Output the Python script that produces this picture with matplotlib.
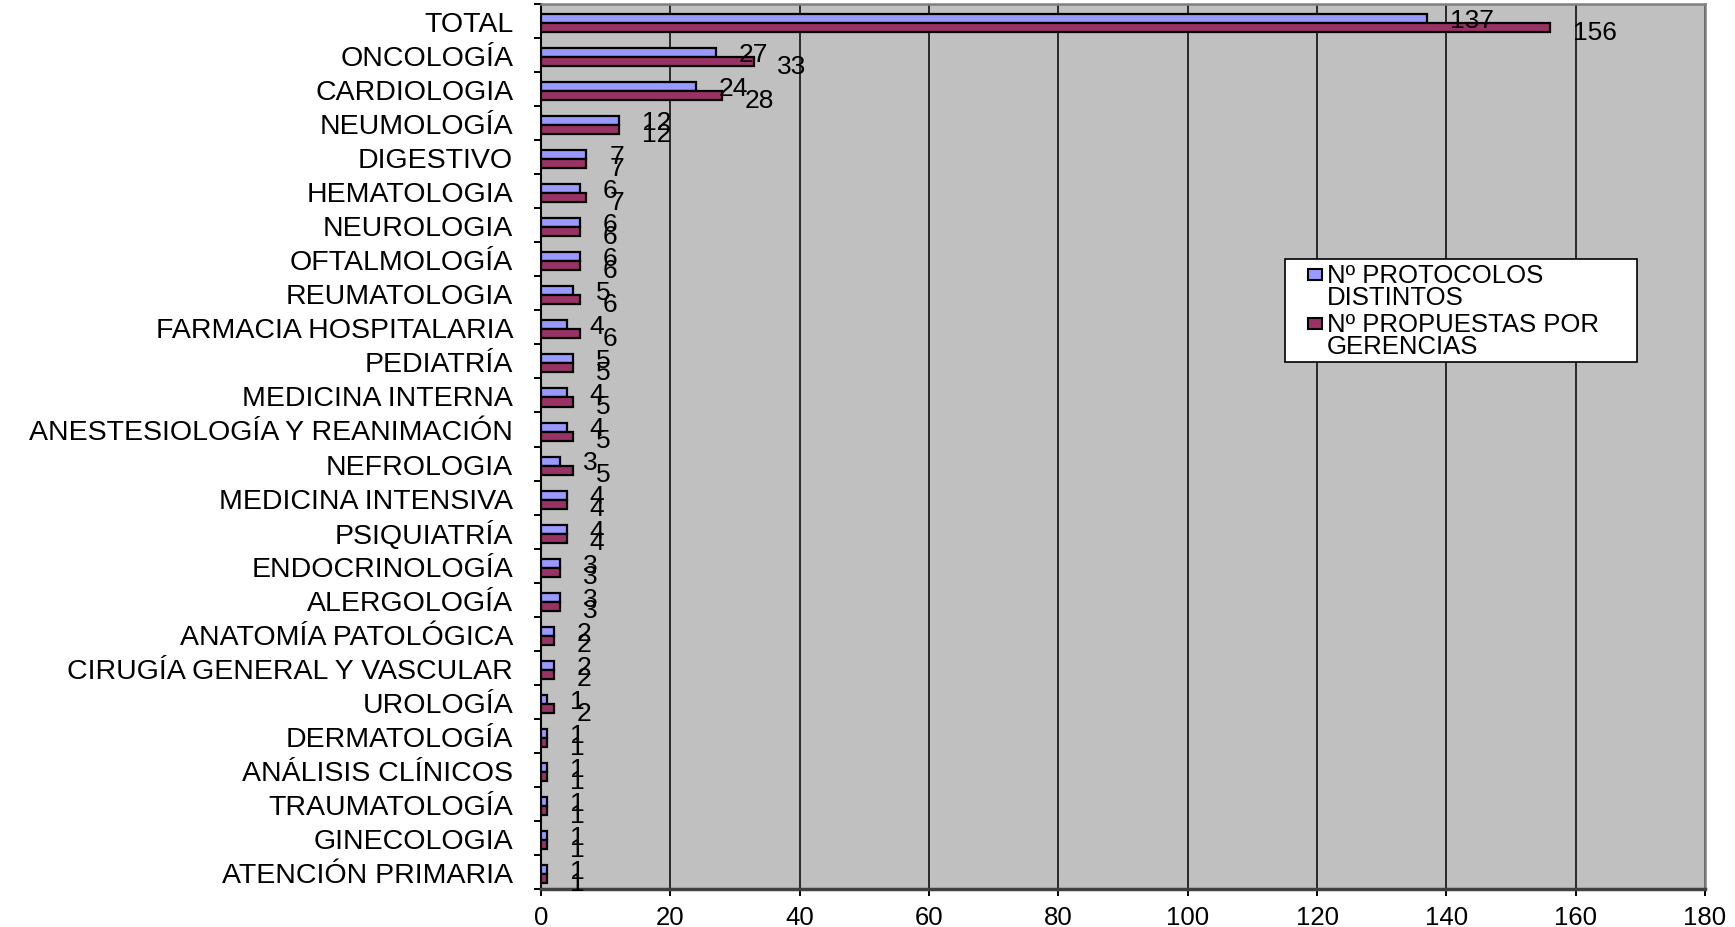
import matplotlib
matplotlib.use("Agg")
import matplotlib.pyplot as plt
import numpy as np
from matplotlib.patches import Rectangle
from matplotlib.legend_handler import HandlerBase

categories = ["TOTAL", "ONCOLOGÍA", "CARDIOLOGIA", "NEUMOLOGÍA", "DIGESTIVO",
              "HEMATOLOGIA", "NEUROLOGIA", "OFTALMOLOGÍA", "REUMATOLOGIA",
              "FARMACIA HOSPITALARIA", "PEDIATRÍA", "MEDICINA INTERNA",
              "ANESTESIOLOGÍA Y REANIMACIÓN", "NEFROLOGIA", "MEDICINA INTENSIVA",
              "PSIQUIATRÍA", "ENDOCRINOLOGÍA", "ALERGOLOGÍA", "ANATOMÍA PATOLÓGICA",
              "CIRUGÍA GENERAL Y VASCULAR", "UROLOGÍA", "DERMATOLOGÍA",
              "ANÁLISIS CLÍNICOS", "TRAUMATOLOGÍA", "GINECOLOGIA", "ATENCIÓN PRIMARIA"]
protocolos = [137, 27, 24, 12, 7, 6, 6, 6, 5, 4, 5, 4, 4, 3, 4, 4, 3, 3, 2, 2, 1, 1, 1, 1, 1, 1]
propuestas = [156, 33, 28, 12, 7, 7, 6, 6, 6, 6, 5, 5, 5, 5, 4, 4, 3, 3, 2, 2, 2, 1, 1, 1, 1, 1]
series_names = ["Nº PROTOCOLOS\nDISTINTOS", "Nº PROPUESTAS POR\nGERENCIAS"]
x_ticks = [0, 20, 40, 60, 80, 100, 120, 140, 160, 180]

plt.rcParams['font.family'] = ['Liberation Sans', 'DejaVu Sans']

W, H = 1735, 928
fig = plt.figure(figsize=(W / 100, H / 100), dpi=100)
ax = fig.add_axes([541 / W, 1 - 890 / H, (1705 - 541) / W, (890 - 5) / H])
ax.set_facecolor('#C0C0C0')

n = len(categories)
y = np.arange(n)
h = 0.265
off = 0.06
blue = ax.barh(y - h / 2 + off, protocolos, height=h, color='#9999FF', edgecolor='black',
               linewidth=1.6, zorder=3, label=series_names[0])
red = ax.barh(y + h / 2 + off, propuestas, height=h, color='#993366', edgecolor='black',
              linewidth=1.6, zorder=3, label=series_names[1])

ax.set_xlim(x_ticks[0], x_ticks[-1])
ax.set_ylim(n - 0.5, -0.5)
ax.set_xticks(x_ticks)
ax.xaxis.grid(True, color='black', linewidth=1.1, zorder=1)
ax.set_axisbelow(True)

ax.set_yticks(y)
ax.set_yticklabels(categories, fontsize=20.5)
ax.tick_params(axis='y', which='major', length=0, pad=20)
ax.set_yticks(np.arange(n + 1) - 0.5, minor=True)
ax.tick_params(axis='y', which='minor', length=5, width=1.4, direction='out')
ax.tick_params(axis='x', which='major', length=5, width=1.4, direction='out',
               labelsize=18.5, pad=6.5)

ax.spines['left'].set_color('black')
ax.spines['left'].set_linewidth(1.5)
ax.spines['bottom'].set_color('#404040')
ax.spines['bottom'].set_linewidth(2.5)
for s in ('top', 'right'):
    ax.spines[s].set_color('#808080')
    ax.spines[s].set_linewidth(1.8)

for bars, vals, dy in ((blue, protocolos, -1.0), (red, propuestas, -3.0)):
    for rect, v in zip(bars, vals):
        ax.annotate(str(v), (v, rect.get_y() + rect.get_height() / 2),
                    xytext=(16.5, dy), textcoords='offset points',
                    ha='left', va='center', fontsize=19, color='black', zorder=5)


class TopRect(HandlerBase):
    def __init__(self, shift, rw, rh):
        super().__init__()
        self.shift = shift
        self.rw = rw
        self.rh = rh

    def create_artists(self, legend, orig_handle, xdescent, ydescent, width, height,
                       fontsize, trans):
        x0 = -xdescent + width - self.rw
        y0 = -ydescent + height / 2 - self.rh / 2 + self.shift
        r = Rectangle((x0, y0), self.rw, self.rh, facecolor=orig_handle.get_facecolor(),
                      edgecolor='black', linewidth=1.5, transform=trans)
        return [r]


lfs = 18.5
handler = TopRect(shift=8.5, rw=10.0, rh=8.0)
leg_h = 103 / H
leg = fig.legend(handles=[blue.patches[0], red.patches[0]], labels=series_names,
                 loc='upper left',
                 bbox_to_anchor=(1285 / W, 1 - 260 / H - leg_h, 352 / W, leg_h),
                 bbox_transform=fig.transFigure, mode='expand',
                 fontsize=lfs, frameon=True, fancybox=False, shadow=False,
                 borderpad=0.15, borderaxespad=0, handlelength=1.3,
                 handleheight=0.55, handletextpad=0.18, labelspacing=0.1,
                 handler_map={Rectangle: handler})
frame = leg.get_frame()
frame.set_facecolor('white')
frame.set_edgecolor('black')
frame.set_linewidth(1.2)
frame.set_alpha(1)
for t in leg.get_texts():
    t.set_linespacing(0.92)

fig.savefig('out.png', dpi=100)
